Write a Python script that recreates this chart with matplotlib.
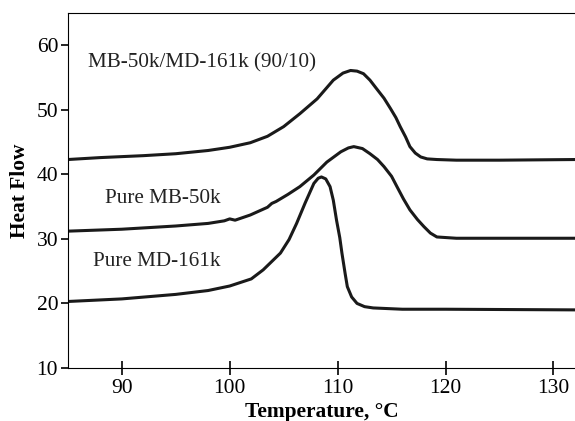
import matplotlib.pyplot as plt

plt.rcParams['font.family'] = 'Liberation Serif'

# DSC curves
temp_blend = [85, 88, 92, 95, 98, 100, 101.9, 103.5, 105.0, 106.5, 108.1, 109.6, 110.5, 111.2, 111.8, 112.4, 113.0,
              113.6, 114.3, 114.9, 115.4, 115.8, 116.3, 116.7, 117.2, 117.7, 118.3, 119.2, 121, 125, 132]
hf_blend = [42.3, 42.6, 42.9, 43.2, 43.7, 44.2, 44.9, 45.9, 47.4, 49.4, 51.7, 54.6, 55.7, 56.1, 56.0, 55.6, 54.6,
            53.3, 51.8, 50.2, 48.8, 47.4, 45.8, 44.3, 43.3, 42.7, 42.4, 42.3, 42.2, 42.2, 42.3]

temp_mb = [85, 90, 95, 98, 99.5, 100, 100.5, 101.9, 103.5, 103.9, 104.3, 105.4, 106.5, 107.8, 109.0, 110.3, 111.0,
           111.5, 112.3, 113.0, 113.7, 114.3, 115.0, 115.5, 116.1, 116.7, 117.4, 118.0, 118.6, 119.2, 121, 125, 132]
hf_mb = [31.2, 31.5, 32.0, 32.4, 32.8, 33.1, 32.9, 33.7, 34.9, 35.5, 35.8, 36.9, 38.1, 39.9, 41.9, 43.5, 44.1,
         44.3, 44.0, 43.2, 42.3, 41.2, 39.7, 38.1, 36.2, 34.5, 33.0, 31.9, 30.9, 30.3, 30.1, 30.1, 30.1]

temp_md = [85, 90, 95, 98, 100, 102, 103.1, 104.7, 105.5, 106.2, 107.0, 107.8, 108.2, 108.5, 108.9, 109.3, 109.6,
           109.9, 110.2, 110.4, 110.7, 110.9, 111.3, 111.8, 112.5, 113.3, 116, 120, 132]
hf_md = [20.3, 20.7, 21.4, 22.0, 22.7, 23.8, 25.2, 27.8, 29.9, 32.4, 35.6, 38.6, 39.4, 39.6, 39.3, 38.1, 36.0,
         32.9, 30.2, 27.8, 24.6, 22.6, 21.0, 20.0, 19.5, 19.3, 19.1, 19.1, 19.0]

labels = ['MB-50k/MD-161k (90/10)', 'Pure MB-50k', 'Pure MD-161k']
label_pos = [(86.9, 57.3), (88.4, 36.2), (87.3, 26.5)]

fig = plt.figure(figsize=(5.75, 4.21), dpi=100)
ax = fig.add_axes([0.118, 0.126, 0.882, 0.843])

for t, h in [(temp_blend, hf_blend), (temp_mb, hf_mb), (temp_md, hf_md)]:
    ax.plot(t, h, color='#1a1a1a', lw=2.2, solid_capstyle='round', solid_joinstyle='round')

for lab, (x, y) in zip(labels, label_pos):
    ax.text(x, y, lab, fontsize=15.2, ha='left', va='center', color='#222222')

ax.set_xlim(85, 132)
ax.set_ylim(10, 65)
ax.set_xticks([90, 100, 110, 120, 130])
ax.set_yticks([10, 20, 30, 40, 50, 60])
ax.spines['right'].set_visible(False)
ax.tick_params(axis='x', direction='inout', length=10, width=1.2, labelsize=15.5, pad=3)
ax.tick_params(axis='y', direction='out', length=5, width=1.2, labelsize=15.5, pad=2)
ax.set_xlabel('Temperature, °C', fontsize=15.4, fontweight='bold', labelpad=3)
ax.set_ylabel('Heat Flow', fontsize=15.4, fontweight='bold', labelpad=5)

fig.savefig('out.png', dpi=100, facecolor='white')
